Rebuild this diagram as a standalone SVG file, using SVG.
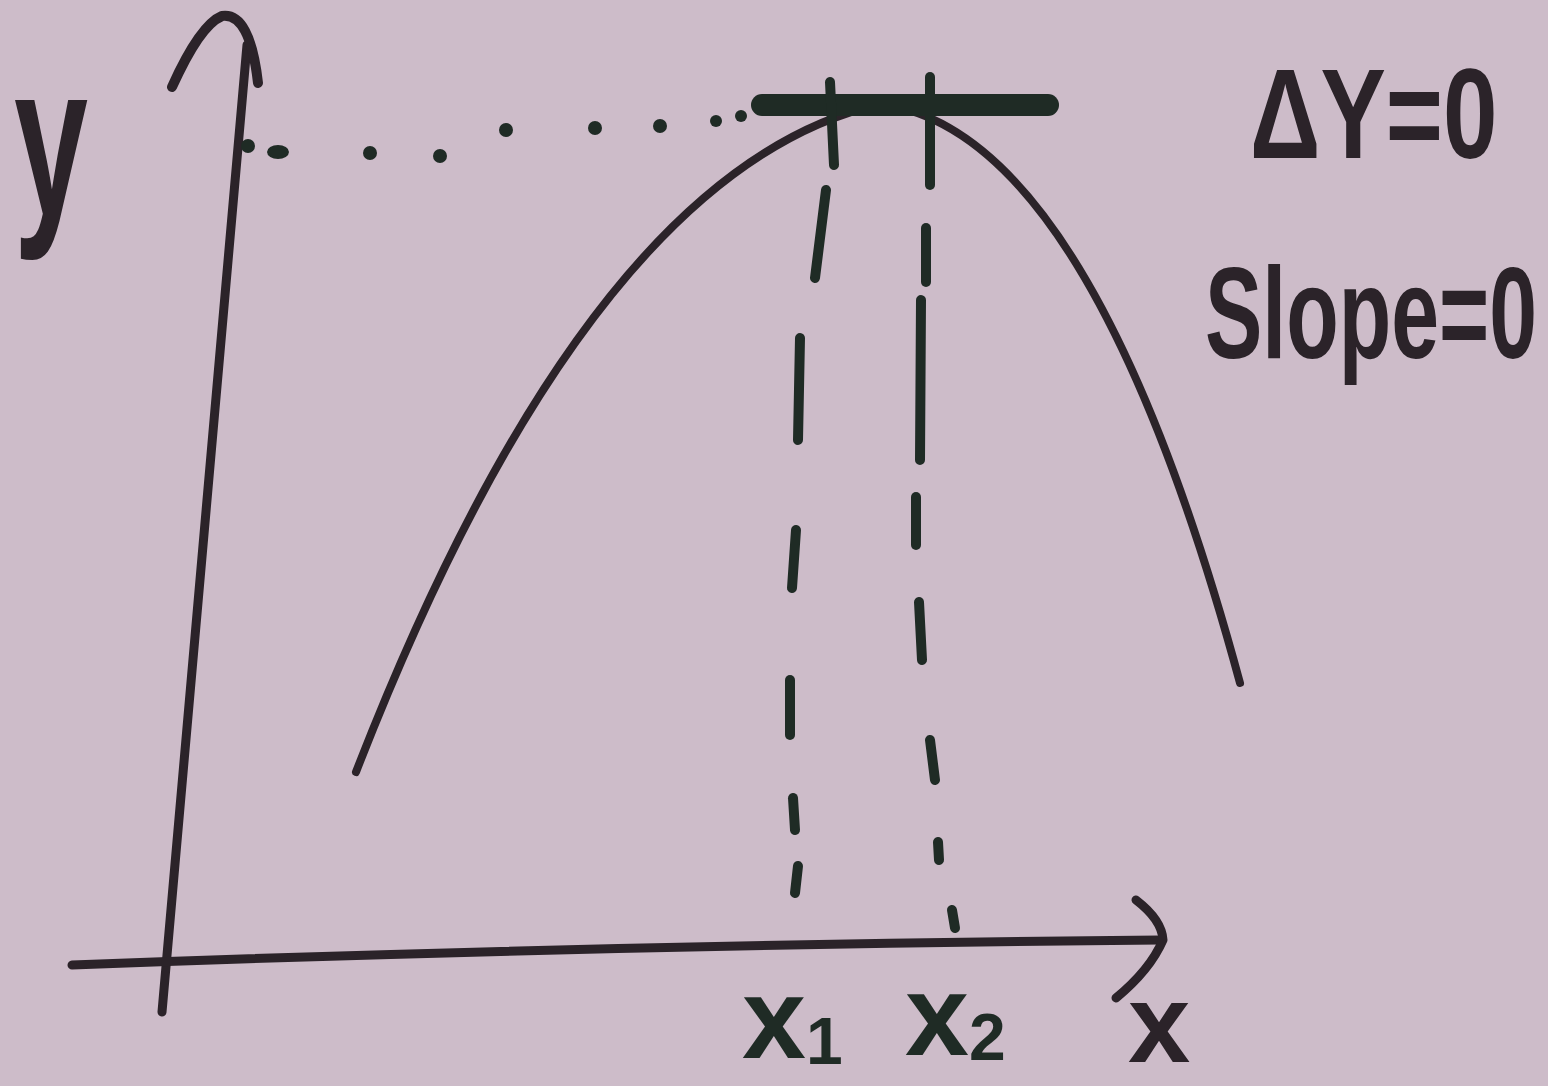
<svg xmlns="http://www.w3.org/2000/svg" width="1548" height="1086" viewBox="0 0 1548 1086">
<style>
.ink{fill:none;stroke:#2b2329;stroke-linecap:round;stroke-linejoin:round}
.grn{fill:none;stroke:#1f2b25;stroke-linecap:round;stroke-linejoin:round}
.lbl{font-family:"Liberation Sans","DejaVu Sans",sans-serif;font-weight:bold;fill:#2b2329}
.lblg{font-family:"Liberation Sans","DejaVu Sans",sans-serif;font-weight:bold;fill:#1f2b25}
</style>
<rect width="1548" height="1086" fill="#cdbcc9"/>
<g id="y-axis">
<path class="ink" stroke-width="9" d="M247 45 L162 1012"/>
<path class="ink" stroke-width="10" d="M172 87 Q200 25 222 16 Q250 12 258 83"/>
</g>
<g id="x-axis">
<path class="ink" stroke-width="9" d="M72 965 Q600 945 1160 940"/>
<path class="ink" stroke-width="9" d="M1136 900 Q1162 920 1163 940 Q1150 970 1116 998"/>
</g>
<g id="curve">
<path class="ink" stroke-width="8" d="M356 772 Q590 170 880 104 Q1090 130 1240 683"/>
</g>
<g id="tangent">
<path class="grn" stroke-width="22" d="M762 105 L1048 105"/>
</g>
<g id="connectors">
<g id="dotted-y" fill="#1f2b25">
<circle cx="248" cy="146" r="7"/>
<ellipse cx="278" cy="152" rx="11" ry="7"/>
<circle cx="370" cy="153" r="7"/>
<circle cx="440" cy="156" r="7"/>
<circle cx="506" cy="130" r="7"/>
<circle cx="595" cy="128" r="7"/>
<circle cx="660" cy="126" r="7"/>
<circle cx="716" cy="121" r="6"/>
<circle cx="741" cy="116" r="6"/>
</g>
<g id="dashed-x1" class="grn" stroke-width="10">
<path d="M830 82 L834 165"/>
<path d="M826 190 L815 278"/>
<path d="M800 338 L798 440"/>
<path d="M796 530 L792 588"/>
<path d="M790 680 L790 735"/>
<path d="M793 798 L795 830"/>
<path d="M798 866 L795 893"/>
</g>
<g id="dashed-x2" class="grn" stroke-width="10">
<path d="M930 77 L930 185"/>
<path d="M926 228 L926 282"/>
<path d="M921 300 L920 460"/>
<path d="M916 497 L916 545"/>
<path d="M919 602 L922 660"/>
<path d="M930 740 L935 780"/>
<path d="M938 842 L939 860"/>
<path d="M952 910 L955 928"/>
</g>
</g>
<g id="labels">
<text class="lbl" font-size="140" transform="translate(14 215) scale(0.95 1.55)">y</text>
<text class="lbl" font-size="98" transform="translate(1250 158) scale(1 1.3)">ΔY=0</text>
<text class="lbl" font-size="86" transform="translate(1205 358) scale(1 1.5)">Slope=0</text>
<text class="lblg" x="742" y="1058" font-size="115">x<tspan font-size="66" dy="6">1</tspan></text>
<text class="lblg" x="905" y="1055" font-size="115">x<tspan font-size="66" dy="5">2</tspan></text>
<text class="lbl" x="1128" y="1062" font-size="112">x</text>
</g>
</svg>
